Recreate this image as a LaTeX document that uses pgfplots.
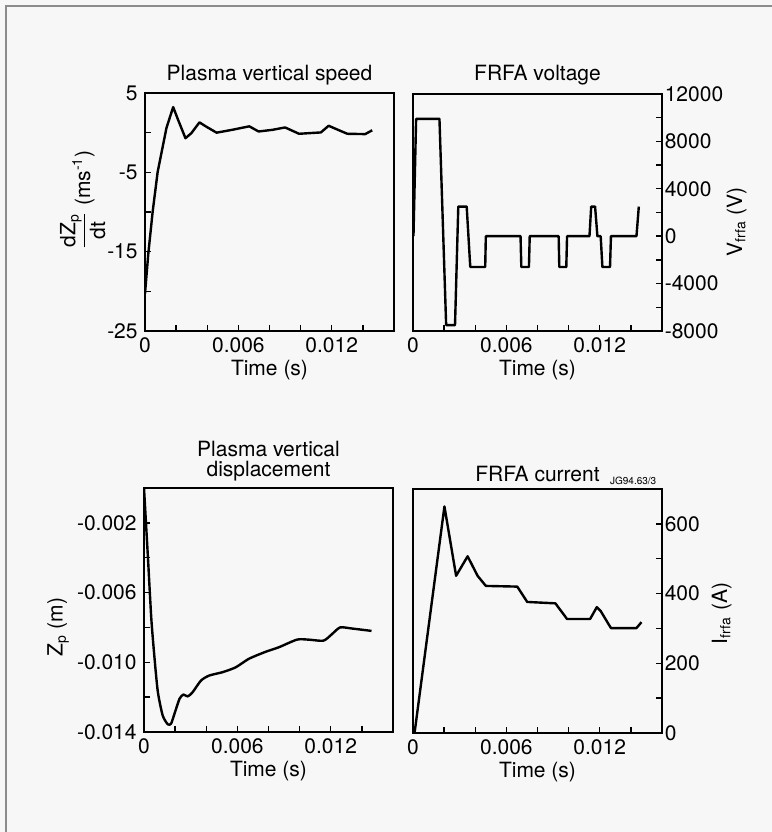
\documentclass[border=0pt]{standalone}
\usepackage{pgfplots}
\pgfplotsset{compat=1.18}
\usepackage{fontspec}
\setmainfont{TeX Gyre Heros}
\pgfplotsset{
  panel/.style={
    scale only axis,
    width=124.5pt,
    xmin=0, xmax=0.016,
    scaled x ticks=false, scaled y ticks=false,
    clip mode=individual,
    tick align=inside,
    xtick pos=bottom,
    major tick length=3pt,
    axis line style={line width=0.9pt},
    every tick/.style={line width=0.7pt, black},
    xtick={0,0.002,0.004,0.006,0.008,0.010,0.012,0.014},
    xticklabels={0,,,0.006,,,0.012,},
    xlabel={Time (s)},
    xlabel style={at={(axis description cs:0.5,0)}, anchor=base, yshift=-22.5pt, inner sep=0pt},
    cycle list={{black, mark=none}},
    every axis plot/.append style={line width=1.2pt, line join=round},
  },
  leftpanel/.style={panel, ytick pos=left, yticklabel style={inner xsep=3.5pt}},
  rightpanel/.style={panel, ytick pos=right, yticklabel pos=right, yticklabel style={inner xsep=1.2pt}},
  ttl/.style={every axis title/.style={at={(0.5,1)}, anchor=south, inner sep=0pt, yshift=#1}},
}
\begin{document}
\begin{tikzpicture}[font=\fontsize{10.5}{12}\selectfont]
\fill[black!3] (0,0) rectangle (386pt,416pt);
\path[use as bounding box] (0,0) rectangle (386pt,416pt);
\draw[black!45, line width=0.8pt] (3pt,0pt) -- (3pt,413pt) -- (386pt,413pt);

% Panel 1: Plasma vertical speed
\begin{axis}[leftpanel, at={(72.5pt,250.5pt)}, anchor=south west, height=119pt,
  ymin=-25, ymax=5,
  ytick={-25,-20,-15,-10,-5,0,5},
  yticklabels={-25,,-15,,-5,,5},
  ttl=3.8pt, title={Plasma vertical speed},
  ylabel={$\displaystyle\frac{\mbox{dZ}_{\mbox{\scriptsize p}}}{\mbox{dt}}$ (ms$^{\mbox{\scriptsize -1}}$)},
  ylabel style={at={(axis description cs:-0.25,0.55)}, anchor=center},
]
\addplot coordinates {
(0,-20.3) (0.00021,-15.3) (0.00049,-10.0) (0.00081,-5.0) (0.00138,0.6) (0.00181,3.23)
(0.00213,1.6) (0.0026,-0.7) (0.00298,-0.06) (0.0035,1.3) (0.0039,0.8) (0.0046,0.0)
(0.0056,0.36) (0.0067,0.8) (0.0073,0.15) (0.0082,0.36) (0.009,0.66) (0.0099,-0.14)
(0.0113,0.03) (0.0118,0.87) (0.0124,0.36) (0.013,-0.14) (0.01415,-0.18) (0.0146,0.3)
};
\end{axis}

% Panel 2: FRFA voltage
\begin{axis}[rightpanel, at={(206.5pt,250.5pt)}, anchor=south west, height=118.5pt,
  ymin=-8000, ymax=12000,
  ytick={-8000,-6000,-4000,-2000,0,2000,4000,6000,8000,10000,12000},
  yticklabels={-8000,,-4000,,0,,4000,,8000,,12000},
  ttl=4.3pt, title={FRFA voltage},
  ylabel={V$_{\mbox{\scriptsize frfa}}$ (V)},
  ylabel style={at={(axis description cs:1.30,0.46)}, anchor=center},
]
\addplot coordinates {
(0.00003,0) (0.0002,9900) (0.0017,9900) (0.00213,-7500) (0.0027,-7500) (0.00291,2500)
(0.00345,2500) (0.00368,-2600) (0.00464,-2600) (0.00468,0) (0.00691,0) (0.00696,-2600)
(0.00745,-2600) (0.0075,0) (0.00936,0) (0.0094,-2600) (0.00985,-2600) (0.0099,0)
(0.01134,0) (0.01145,2500) (0.0117,2500) (0.01185,0) (0.01206,0) (0.01217,-2600)
(0.01266,-2600) (0.01272,0) (0.01436,0) (0.01451,2500)
};
\end{axis}

% Panel 3: Plasma vertical displacement
\begin{axis}[leftpanel, at={(72pt,50pt)}, anchor=south west, height=122pt,
  ymin=-0.014, ymax=0,
  ytick={-0.014,-0.012,-0.010,-0.008,-0.006,-0.004,-0.002},
  yticklabels={-0.014,,-0.010,,-0.006,,-0.002},
  ttl=3.5pt, title={Plasma vertical\\displacement},
  title style={align=center, font=\fontsize{10.5}{10}\selectfont},
  ylabel={Z$_{\mbox{\scriptsize p}}$ (m)},
  ylabel style={at={(axis description cs:-0.345,0.43)}, anchor=center},
]
\addplot+[smooth, tension=0.4] coordinates {
(0,0) (0.00026,-0.0041) (0.00047,-0.0075) (0.00068,-0.0098) (0.00089,-0.0117)
(0.0012,-0.01305) (0.00153,-0.01356) (0.00174,-0.01352) (0.00196,-0.01295)
(0.00228,-0.0121) (0.00253,-0.01185) (0.00281,-0.01196) (0.00313,-0.01171)
(0.00366,-0.01105) (0.00419,-0.01076) (0.00504,-0.01057) (0.00589,-0.01029)
(0.00674,-0.0098) (0.00781,-0.0094) (0.00866,-0.00914) (0.00983,-0.0087)
(0.01057,-0.0087) (0.01153,-0.00876) (0.01206,-0.0084) (0.0126,-0.0080)
(0.01334,-0.00806) (0.01462,-0.0082)
};
\end{axis}

% Panel 4: FRFA current
\begin{axis}[rightpanel, at={(206.5pt,49.5pt)}, anchor=south west, height=122pt,
  ymin=0, ymax=700,
  ytick={0,100,200,300,400,500,600},
  yticklabels={0,,200,,400,,600},
  ttl=3.5pt, title={FRFA current},
  ylabel={I$_{\mbox{\scriptsize frfa}}$ (A)},
  ylabel style={at={(axis description cs:1.24,0.49)}, anchor=center},
]
\addplot coordinates {
(0.0001,0) (0.00202,650) (0.00277,451) (0.00351,507) (0.00415,451) (0.00468,422)
(0.0067,420) (0.00734,376) (0.00915,372) (0.0099,327) (0.01138,327) (0.01181,361)
(0.01206,350) (0.01272,301) (0.01436,301) (0.01468,318)
};
\node[anchor=base west, inner sep=0pt, font=\fontsize{5}{6}\selectfont]
  at (axis description cs:0.79,1) [yshift=2.5pt] {JG94.63/3};
\end{axis}
\end{tikzpicture}
\end{document}
